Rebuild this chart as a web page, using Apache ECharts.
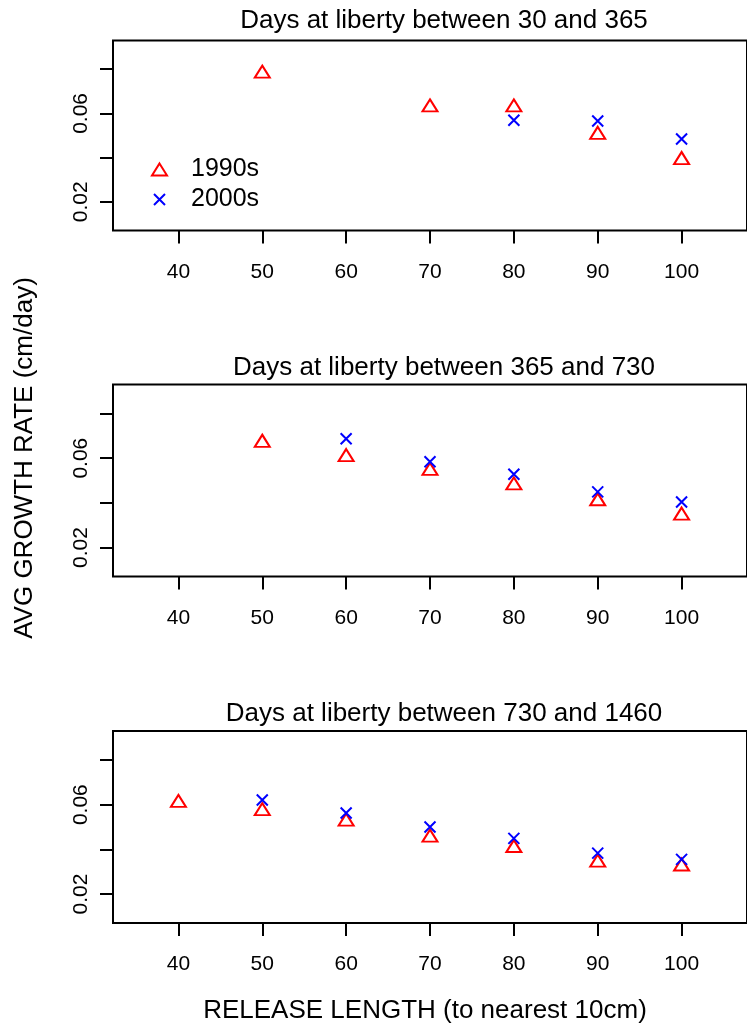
<!DOCTYPE html>
<html>
<head>
<meta charset="utf-8">
<script src="https://cdn.jsdelivr.net/npm/echarts@6/dist/echarts.min.js"></script>
<style>
html,body{margin:0;padding:0;background:#fff;}
#c{width:747px;height:1029px;}
</style>
</head>
<body>
<div id="c"></div>
<script>
// ---- data ----
const lengths = [40, 50, 60, 70, 80, 90, 100];
const xTicks = [40, 50, 60, 70, 80, 90, 100];
const yTicks = [0.02, 0.04, 0.06, 0.08];
const yTickLabels = [0.02, 0.06];
const panelTitles = [
  'Days at liberty between 30 and 365',
  'Days at liberty between 365 and 730',
  'Days at liberty between 730 and 1460'
];
const seriesNames = ['1990s', '2000s'];
const p1_1990s = [null, 0.0780, null, 0.0627, 0.0627, 0.0503, 0.0389];
const p1_2000s = [null, null, null, null, 0.0569, 0.0566, 0.0484];
const p2_1990s = [null, 0.0669, 0.0605, 0.0543, 0.0478, 0.0407, 0.0343];
const p2_2000s = [null, null, 0.0687, 0.0584, 0.0528, 0.0449, 0.0404];
const p3_1990s = [0.0608, 0.0571, 0.0524, 0.0452, 0.0406, 0.0340, 0.0323];
const p3_2000s = [null, 0.0621, 0.0563, 0.0500, 0.0449, 0.0383, 0.0355];
const yLabel = 'AVG GROWTH RATE (cm/day)';
const xLabel = 'RELEASE LENGTH (to nearest 10cm)';

// ---- layout ----
const FONT = 'Liberation Sans, Arial, Helvetica, sans-serif';
const grids = [
  {top: 40.5, height: 190},
  {top: 384.5, height: 192},
  {top: 731, height: 192}
];
const titleTops = [3, 350, 696];
const panels = [[p1_1990s, p1_2000s], [p2_1990s, p2_2000s], [p3_1990s, p3_2000s]];

const TRI_W = 15, TRI_H = 12;
const crossPath = 'path://M0,0L10,10M10,0L0,10';

function pairs(vals) {
  const out = [];
  vals.forEach((v, i) => { if (v !== null) out.push([lengths[i], v]); });
  return out;
}

const option = {
  backgroundColor: '#fff',
  animation: false,
  textStyle: {fontFamily: FONT},
  title: panelTitles.map((t, i) => ({
    text: t, left: 439, top: titleTops[i], textAlign: 'center',
    textStyle: {fontFamily: FONT, fontSize: 26, fontWeight: 'normal', color: '#000'}
  })),
  grid: grids.map(g => ({
    left: 113, width: 642, top: g.top, height: g.height,
    show: true, borderColor: '#000', borderWidth: 2, backgroundColor: 'transparent',
    containLabel: false
  })),
  xAxis: grids.map((g, i) => ({
    type: 'value', gridIndex: i, min: 32.2, max: 107.8,
    axisLine: {show: false},
    splitLine: {show: false},
    axisTick: {show: true, length: 13, lineStyle: {color: '#000', width: 2}, customValues: xTicks},
    axisLabel: {show: true, customValues: xTicks, margin: 31, color: '#000', fontSize: 21, fontFamily: FONT}
  })),
  yAxis: grids.map((g, i) => ({
    type: 'value', gridIndex: i, min: 0.0070, max: 0.0930,
    axisLine: {show: false},
    splitLine: {show: false},
    axisTick: {show: true, length: 13, lineStyle: {color: '#000', width: 2}, customValues: yTicks},
    axisLabel: {show: true, customValues: yTickLabels, rotate: 90, margin: 21, color: '#000',
      fontSize: 21, fontFamily: FONT, formatter: v => v.toFixed(2)}
  })),
  legend: {
    orient: 'vertical', left: 146, top: 152, itemGap: 5,
    itemWidth: TRI_W, itemHeight: TRI_H,
    textStyle: {fontSize: 25, color: '#000', fontFamily: FONT, padding: [0, 0, 0, 19]},
    data: [
      {name: '1990s', icon: 'triangle', itemStyle: {color: 'transparent', borderColor: '#ff0000', borderWidth: 2}},
      {name: '2000s', icon: 'path://M0,0M15,12M2,0.5L13,11.5M13,0.5L2,11.5', itemStyle: {color: 'transparent', borderColor: '#0000ff', borderWidth: 2}}
    ],
    selectedMode: false
  },
  series: [],
  graphic: [
    {type: 'text', x: 25, y: 458, rotation: Math.PI / 2,
      style: {text: yLabel, fill: '#000', font: '26px ' + FONT, align: 'center', verticalAlign: 'middle'}},
    {type: 'text', x: 425, y: 1011,
      style: {text: xLabel, fill: '#000', font: '26px ' + FONT, align: 'center', verticalAlign: 'middle'}}
  ]
};

panels.forEach((pv, i) => {
  option.series.push({
    name: seriesNames[0], type: 'scatter', xAxisIndex: i, yAxisIndex: i,
    symbol: 'triangle', symbolSize: [TRI_W, TRI_H], symbolOffset: [0, -TRI_H / 6],
    itemStyle: {color: 'transparent', borderColor: '#ff0000', borderWidth: 2, opacity: 1},
    emphasis: {disabled: true},
    data: pairs(pv[0]), z: 2
  });
  option.series.push({
    name: seriesNames[1], type: 'scatter', xAxisIndex: i, yAxisIndex: i,
    symbol: crossPath, symbolSize: [11, 11],
    itemStyle: {color: 'transparent', borderColor: '#0000ff', borderWidth: 2, opacity: 1},
    emphasis: {disabled: true},
    data: pairs(pv[1]), z: 3
  });
});

const chart = echarts.init(document.getElementById('c'), null, {renderer: 'canvas'});
chart.setOption(option);
</script>
</body>
</html>
